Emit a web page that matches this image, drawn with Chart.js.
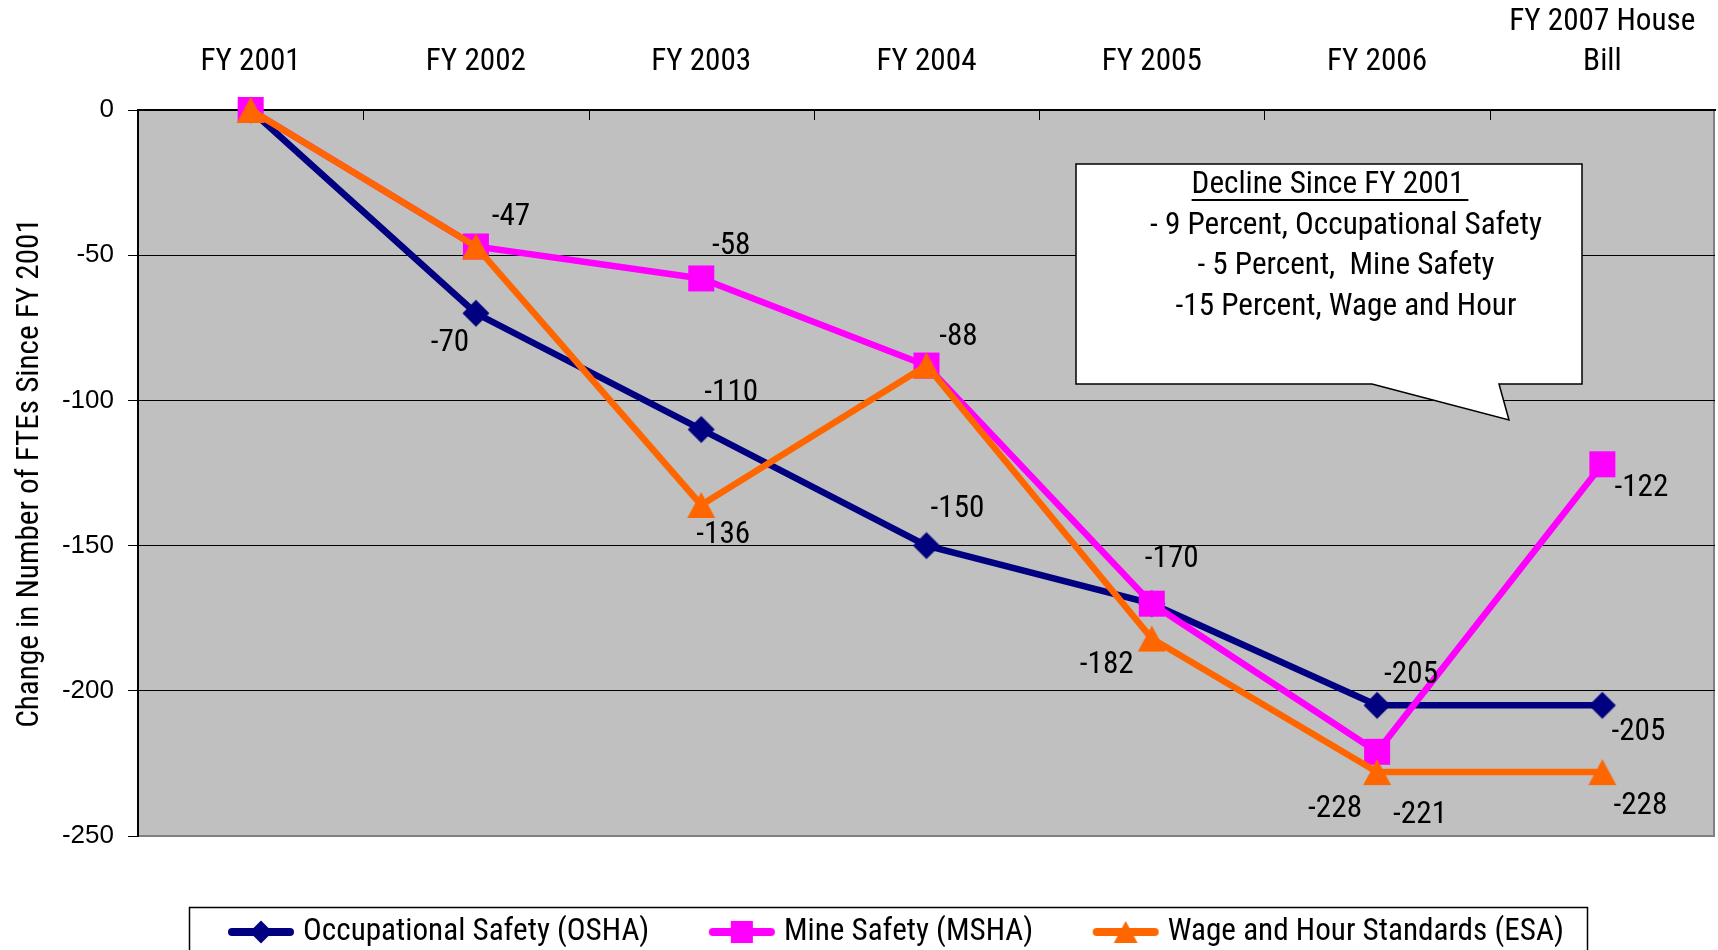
<!DOCTYPE html>
<html><head><meta charset="utf-8">
<script src="https://cdn.jsdelivr.net/npm/chart.js@4/dist/chart.umd.min.js"></script>
<style>html,body{margin:0;padding:0;background:#fff;overflow:hidden}</style>
</head><body>
<canvas id="c" width="1718" height="950"></canvas>
<script>
// ---------- data ----------
const categories = ['FY 2001', 'FY 2002', 'FY 2003', 'FY 2004', 'FY 2005', 'FY 2006', ['FY 2007 House', 'Bill']];
const oshaValues = [0, -70, -110, -150, -170, -205, -205];
const mshaValues = [0, -47, -58, -88, -170, -221, -122];
const esaValues  = [0, -47, -136, -88, -182, -228, -228];
const seriesNames = ['Occupational Safety (OSHA)', 'Mine Safety (MSHA)', 'Wage and Hour Standards (ESA)'];
const yTicks = [0, -50, -100, -150, -200, -250];
const yTitle = 'Change in Number of FTEs Since FY 2001';
const calloutTitle = 'Decline Since FY 2001';
const calloutLines = ['- 9 Percent, Occupational Safety', '- 5 Percent,  Mine Safety', '-15 Percent, Wage and Hour'];

// ---------- fonts ----------
function fontAvailable(name) {
  const c = document.createElement('canvas').getContext('2d');
  const t = 'Occupational Safety (OSHA) 2001 WgMmi';
  for (const g of ['monospace', 'serif']) {
    c.font = '40px ' + g; const a = c.measureText(t).width;
    c.font = '40px "' + name + '", ' + g; const b = c.measureText(t).width;
    if (Math.abs(a - b) > 0.5) return true;
  }
  return false;
}
const NARROW_CANDIDATES = ['Liberation Sans Narrow', 'Arial Narrow', 'Roboto Condensed', 'Noto Sans Condensed', 'DejaVu Sans Condensed', 'Liberation Sans'];
const narrowName = NARROW_CANDIDATES.find(fontAvailable) || 'sans-serif';
const NARROW = '"' + narrowName + '", sans-serif';
const ARIAL = '"Liberation Sans", Arial, sans-serif';
const mctx = document.createElement('canvas').getContext('2d');
mctx.font = '100px ' + NARROW;
// size chosen so that the legend text width is close to the reference (333 px), slightly taller
const NFS = Math.round(104 * 333 / mctx.measureText('Occupational Safety (OSHA)').width * 10) / 10;

// ---------- styling ----------
const COLORS = ['#000080', '#FF00FF', '#FF6600'];
const KINDS = ['diamond', 'square', 'triangle'];
// label offsets (dx, dy) from point; null = no label
const labelOffsets = [
  [null, [-26, 30], [30, -36], [31, -36], null, [34, -30], [36, 27]],
  [null, [35, -29], [30, -32], [32, -28], [20, -44], [43, 63], [39, 24]],
  [null, null, [22, 30], null, [-45, 27], [-42, 37], [38, 34]]
];

function drawMarker(ctx, kind, cx, cy, s) {
  ctx.beginPath();
  if (kind === 'diamond') {
    const r = 13.5 * s;
    ctx.moveTo(cx, cy - r); ctx.lineTo(cx + r, cy); ctx.lineTo(cx, cy + r); ctx.lineTo(cx - r, cy);
  } else if (kind === 'square') {
    const h = 13 * s;
    ctx.rect(cx - h, cy - h, 2 * h, 2 * h);
  } else {
    const w = 14 * s, h = 13 * s;
    ctx.moveTo(cx, cy - h); ctx.lineTo(cx + w, cy + h); ctx.lineTo(cx - w, cy + h);
  }
  ctx.closePath();
  ctx.fill();
}
function markerImg(kind, color) {
  const c = document.createElement('canvas');
  c.width = 30; c.height = 30;
  const ctx = c.getContext('2d');
  ctx.fillStyle = color;
  drawMarker(ctx, kind, 15, 15, 1);
  return c;
}
function legendImg(kind, color) {
  const c = document.createElement('canvas');
  c.width = 68; c.height = 30;
  const ctx = c.getContext('2d');
  ctx.strokeStyle = color; ctx.fillStyle = color;
  ctx.lineWidth = 8; ctx.lineCap = 'round';
  ctx.beginPath(); ctx.moveTo(5, 15); ctx.lineTo(63, 15); ctx.stroke();
  drawMarker(ctx, kind, 34, 15, 0.85);
  return c;
}
const pointImgs = KINDS.map((k, i) => markerImg(k, COLORS[i]));
const legendImgs = KINDS.map((k, i) => legendImg(k, COLORS[i]));

const LEG_PAD = 66;
const LEG_BOX_W = 53;
const LEG_FIRST_IMG_LEFT = 227;
const LEG_TEXT_Y = 932;
const PLOT_BOTTOM = 836;
const LEG_BOTTOM_PAD = 950 - PLOT_BOTTOM - (NFS + LEG_PAD + 10);

const plotBg = {
  id: 'plotBg',
  beforeDraw(chart) {
    const {ctx, chartArea: a} = chart;
    ctx.save();
    ctx.fillStyle = '#C0C0C0';
    ctx.fillRect(a.left, a.top, a.right - a.left, a.bottom - a.top);
    ctx.strokeStyle = '#808080'; ctx.lineWidth = 2;
    ctx.beginPath(); ctx.moveTo(a.right - 1, a.top); ctx.lineTo(a.right - 1, a.bottom); ctx.lineTo(a.left, a.bottom); ctx.stroke();
    ctx.restore();
  },
  beforeDatasetsDraw(chart) {
    const {ctx, chartArea: a} = chart;
    const xs = chart.scales.x;
    ctx.save();
    ctx.strokeStyle = '#000'; ctx.lineWidth = 1;
    for (let i = 1; i < categories.length; i++) {
      const px = Math.round((xs.getPixelForValue(i - 1) + xs.getPixelForValue(i)) / 2) + 0.5;
      ctx.beginPath(); ctx.moveTo(px, a.top); ctx.lineTo(px, a.top + 10); ctx.stroke();
    }
    ctx.restore();
  }
};

const dataLabels = {
  id: 'dataLabels',
  afterDatasetsDraw(chart) {
    const ctx = chart.ctx;
    ctx.save();
    ctx.font = NFS + 'px ' + NARROW;
    ctx.fillStyle = '#000';
    ctx.textAlign = 'center'; ctx.textBaseline = 'middle';
    chart.data.datasets.forEach((ds, di) => {
      const meta = chart.getDatasetMeta(di);
      meta.data.forEach((pt, i) => {
        const off = labelOffsets[di][i];
        if (!off) return;
        ctx.fillText(String(ds.data[i]), pt.x + off[0], pt.y + off[1]);
      });
    });
    ctx.restore();
  }
};

const callout = {
  id: 'callout',
  afterDraw(chart) {
    const ctx = chart.ctx;
    ctx.save();
    ctx.beginPath();
    ctx.moveTo(1076, 164); ctx.lineTo(1582, 164); ctx.lineTo(1582, 384);
    ctx.lineTo(1499, 384); ctx.lineTo(1509, 420); ctx.lineTo(1372, 384);
    ctx.lineTo(1076, 384); ctx.closePath();
    ctx.fillStyle = '#fff'; ctx.fill();
    ctx.strokeStyle = '#000'; ctx.lineWidth = 1.5; ctx.stroke();
    ctx.font = NFS + 'px ' + NARROW;
    ctx.fillStyle = '#000'; ctx.textAlign = 'center'; ctx.textBaseline = 'middle';
    ctx.fillText(calloutTitle, 1328, 185);
    const w = ctx.measureText(calloutTitle).width;
    ctx.fillRect(1328 - w / 2, 199, w + 4, 2);
    calloutLines.forEach((t, i) => ctx.fillText(t, 1346, 226 + i * 40.5));
    // legend frame
    ctx.lineWidth = 1.5;
    ctx.strokeRect(189.5, 907.5, 1398, 80);
    ctx.restore();
  }
};

const legendShift = {
  id: 'legendShift',
  afterLayout(chart) {
    const lg = chart.legend;
    if (!lg || !lg.lineWidths) return;
    const startX = (lg.left + LEG_PAD + lg.right - lg.lineWidths[0]) / 2;
    const dx = (LEG_FIRST_IMG_LEFT + (68 - LEG_BOX_W) / 2) - startX;
    lg.left += dx; lg.right += dx;
    const dy = LEG_TEXT_Y - (lg.top + LEG_PAD + NFS / 2);
    lg.top += dy; lg.bottom += dy;
  }
};

const ds = (i, data, order) => ({
  label: seriesNames[i], data,
  borderColor: COLORS[i], backgroundColor: COLORS[i],
  borderWidth: 6.5, pointStyle: pointImgs[i], pointRadius: 13, pointHoverRadius: 13,
  order, tension: 0, clip: false
});

new Chart(document.getElementById('c'), {
  type: 'line',
  data: {
    labels: categories,
    datasets: [ds(0, oshaValues, 3), ds(1, mshaValues, 2), ds(2, esaValues, 1)]
  },
  options: {
    responsive: false, animation: false, devicePixelRatio: 1,
    layout: {autoPadding: false, padding: {top: 0, right: 3, bottom: LEG_BOTTOM_PAD, left: 0}},
    plugins: {
      tooltip: {enabled: false},
      legend: {
        position: 'bottom',
        labels: {
          usePointStyle: true, pointStyleWidth: LEG_BOX_W, padding: LEG_PAD, color: '#000',
          font: {family: NARROW, size: NFS},
          generateLabels: (chart) => chart.data.datasets.map((d, i) => ({
            text: d.label, fillStyle: d.borderColor, strokeStyle: d.borderColor, lineWidth: 0,
            pointStyle: legendImgs[i], hidden: false, datasetIndex: i, fontColor: '#000'
          }))
        }
      }
    },
    scales: {
      x: {
        position: 'top', offset: true,
        grid: {display: true, drawOnChartArea: false, drawTicks: false},
        border: {display: true, color: '#000', width: 2},
        ticks: {color: '#000', font: {family: NARROW, size: NFS, lineHeight: 40 / NFS}, padding: 28, maxRotation: 0, autoSkip: false},
        afterFit: (s) => { s.height = 110; s.paddingLeft = 0; s.paddingRight = 0; }
      },
      y: {
        min: -250, max: 0,
        afterBuildTicks: (s) => { s.ticks = yTicks.map(v => ({value: v})); },
        grid: {color: (c) => (c.tick && c.tick.value === -250 ? '#808080' : '#000'), lineWidth: 1, tickLength: 10, tickColor: '#000'},
        border: {display: true, color: '#000', width: 2},
        ticks: {color: '#000', font: {family: ARIAL, size: 26}, padding: 14},
        title: {display: true, text: yTitle, color: '#000', font: {family: NARROW, size: NFS, lineHeight: 1.2}, padding: {top: Math.max(0, 30 - 0.6 * NFS), bottom: 0}},
        afterFit: (s) => { s.width = 138; s.paddingTop = 0; s.paddingBottom = 0; }
      }
    }
  },
  plugins: [plotBg, dataLabels, callout, legendShift]
});
</script>
</body></html>
